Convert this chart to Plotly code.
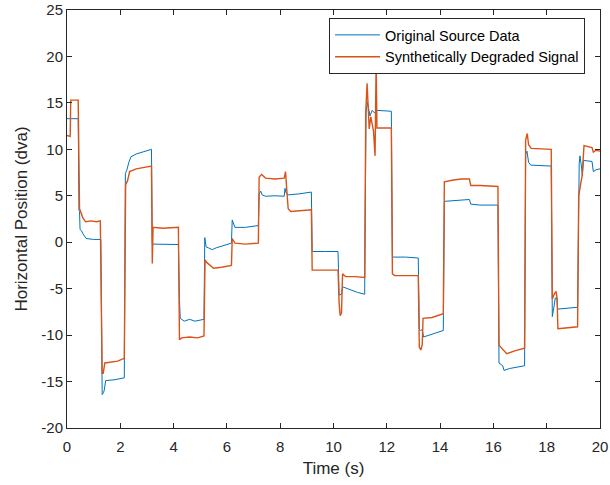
import plotly.graph_objects as go

# Original Source Data (time in s, horizontal position in dva)
orig_t = [0, 0.42, 0.45, 0.47, 0.49, 0.55, 0.6, 0.72, 1.0, 1.27,
          1.32, 1.37, 1.40, 1.45, 1.8, 2.15,
          2.19, 2.25, 2.32, 2.4, 2.6, 2.9, 3.17,
          3.2, 3.22, 3.7, 4.18,
          4.22, 4.25, 4.4, 4.6, 4.8, 5.14,
          5.17, 5.22, 5.3, 5.45, 5.6, 6.17,
          6.2, 6.25, 6.3, 6.7, 7.18,
          7.21, 7.27, 7.32, 7.45, 7.8, 8.15, 8.18, 8.22, 8.3, 8.7, 9.17,
          9.2, 9.7, 10.17,
          10.21, 10.3, 10.34, 10.6, 10.9, 11.17,
          11.22, 11.27, 11.32, 11.37, 11.45, 11.55, 11.6, 12.17,
          12.21, 12.7, 13.18,
          13.22, 13.27, 13.33, 13.38, 13.7, 14.12,
          14.16, 14.5, 15.1, 15.15, 15.5, 16.17,
          16.21, 16.35, 16.4, 16.6, 17.17,
          17.21, 17.26, 17.32, 17.4, 18.17,
          18.21, 18.27, 18.32, 18.38, 18.41, 18.8, 19.16,
          19.22, 19.25, 19.3, 19.34, 19.38, 19.7, 19.75, 19.85, 20.0]
orig_y = [13.3, 13.3, 3.4, 3.3, 1.4, 1.2, 0.9, 0.4, 0.3, 0.3,
          -16.4, -16.2, -15.9, -14.9, -14.8, -14.6,
          7.4, 7.8, 8.6, 9.2, 9.5, 9.8, 10.0,
          -0.2, -0.2, -0.2, -0.25,
          -6.2, -8.2, -8.5, -8.3, -8.5, -8.3,
          0.5, -0.5, -0.6, -0.8, -0.6, -0.1,
          2.4, 2.0, 1.6, 1.6, 1.8,
          5.2, 5.5, 5.1, 4.95, 5.0, 4.95, 5.8, 5.3, 5.1, 5.2, 5.4,
          -1.0, -1.0, -1.0,
          -5.7, -5.6, -4.8, -5.1, -5.4, -5.6,
          14.0, 15.1, 14.3, 13.6, 14.2, 13.9, 14.2, 14.1,
          -1.6, -1.6, -1.7,
          -9.4, -9.5, -9.4, -10.2, -9.9, -9.5,
          4.4, 4.5, 4.6, 4.1, 4.0, 4.0,
          -13.0, -13.3, -13.8, -13.6, -13.3,
          9.5, 9.8, 8.6, 8.3, 8.2,
          -8.0, -7.0, -6.0, -6.0, -7.2, -7.1, -7.0,
          8.5, 9.3, 8.2, 7.2, 8.8, 8.7, 7.6, 7.8, 7.9]

# Synthetically Degraded Signal
degr_t = [0, 0.12, 0.14, 0.42, 0.47, 0.52, 0.6, 0.7, 0.9, 1.1, 1.25,
          1.32, 1.36, 1.42, 1.6, 1.9, 2.15,
          2.2, 2.27, 2.35, 2.6, 2.9, 3.17,
          3.2, 3.23, 3.6, 4.18,
          4.22, 4.3, 4.6, 4.9, 5.14,
          5.18, 5.25, 5.5, 5.8, 6.17,
          6.2, 6.3, 6.7, 7.18,
          7.21, 7.3, 7.45, 7.8, 8.15, 8.2, 8.25, 8.3, 8.4, 8.8, 9.17,
          9.2, 9.6, 10.17,
          10.21, 10.25, 10.3, 10.34, 10.45, 10.8, 11.17,
          11.21, 11.26, 11.3, 11.34, 11.4, 11.5, 11.56, 11.6, 11.63, 12.17,
          12.21, 12.3, 13.18,
          13.22, 13.28, 13.33, 13.36, 13.7, 14.12,
          14.16, 14.5, 14.8, 15.1, 15.15, 15.5, 16.17,
          16.21, 16.35, 16.5, 16.8, 17.17,
          17.21, 17.27, 17.32, 17.42, 18.17,
          18.21, 18.3, 18.35, 18.39, 18.42, 18.8, 19.16,
          19.2, 19.28, 19.33, 19.4, 19.7, 19.75, 19.85, 20.0]
degr_y = [11.5, 11.4, 15.3, 15.3, 3.6, 3.2, 2.6, 2.2, 2.3, 2.2, 2.3,
          -14.1, -14.1, -13.0, -12.9, -12.8, -12.5,
          6.2, 6.6, 7.6, 7.9, 8.1, 8.2,
          -2.3, 1.6, 1.5, 1.6,
          -10.5, -10.3, -10.2, -10.3, -10.1,
          -1.9, -2.2, -2.8, -2.7, -2.5,
          0.4, -0.1, -0.2, -0.1,
          7.0, 7.3, 6.9, 6.8, 6.9, 7.6, 5.5, 3.6, 3.3, 3.4, 3.5,
          -3.0, -3.0, -3.0,
          -6.5, -7.9, -7.6, -3.4, -3.7, -3.7, -3.8,
          14.0, 17.1, 14.5, 12.2, 13.5, 12.0, 9.3, 19.5, 12.3, 12.3,
          -3.4, -3.6, -3.6,
          -11.3, -11.6, -11.0, -8.2, -8.1, -7.7,
          6.5, 6.7, 6.8, 6.8, 6.1, 6.1, 6.0,
          -11.1, -11.5, -12.0, -11.7, -11.4,
          11.0, 11.7, 10.5, 10.1, 10.0,
          -6.1, -5.5, -5.3, -6.0, -9.3, -9.2, -9.1,
          5.0, 6.3, 7.2, 10.4, 10.2, 9.7, 9.9, 9.8]

x_ticks = list(range(0, 21, 2))
x_ticklabels = [str(v) for v in x_ticks]
y_ticks = list(range(-20, 26, 5))
y_ticklabels = [str(v) for v in y_ticks]  # hyphen-minus, as in the original

FONT = "Liberation Sans, Arial, sans-serif"
AX = "#262626"

fig = go.Figure()
fig.add_trace(go.Scatter(x=orig_t, y=orig_y, mode="lines",
                         name="Original Source Data",
                         line=dict(color="#0072BD", width=1)))
fig.add_trace(go.Scatter(x=degr_t, y=degr_y, mode="lines",
                         name="Synthetically Degraded Signal",
                         line=dict(color="#D95319", width=1.4)))

axis_common = dict(showline=True, linecolor=AX, linewidth=1, mirror="ticks",
                   ticks="inside", ticklen=5, tickcolor=AX, tickwidth=1,
                   showgrid=False, zeroline=False,
                   tickfont=dict(family=FONT, size=15, color=AX),
                   title_font=dict(family=FONT, size=17, color=AX))

fig.update_layout(
    width=610, height=485,
    margin=dict(l=67, r=10, t=10, b=57),
    paper_bgcolor="white", plot_bgcolor="white",
    font=dict(family=FONT, color=AX),
    xaxis=dict(range=[0, 20], tickvals=x_ticks, ticktext=x_ticklabels,
               title_text="Time (s)", ticklabelstandoff=5,
               automargin="bottom", title_standoff=8, **axis_common),
    yaxis=dict(range=[-20, 25], tickvals=y_ticks, ticktext=y_ticklabels,
               title_text="Horizontal Position (dva)",
               automargin="left", title_standoff=9, **axis_common),
    legend=dict(x=0.972, xanchor="right", y=0.981, yanchor="top",
                bgcolor="white", bordercolor=AX, borderwidth=1,
                font=dict(family=FONT, size=14.5, color="#000000"),
                itemwidth=45, tracegroupgap=0),
    showlegend=True,
)

fig.write_html("out.html")
